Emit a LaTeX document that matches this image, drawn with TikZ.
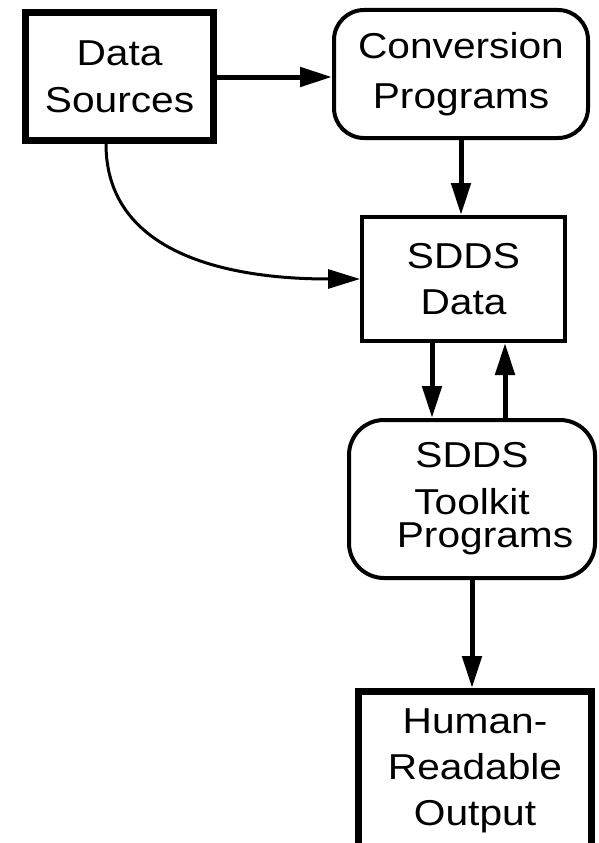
\documentclass[tikz,border=0pt]{standalone}
\usepackage{fontspec}
\setmainfont{Liberation Sans}[FakeStretch=1.13]
\usetikzlibrary{arrows.meta}

\begin{document}
\begin{tikzpicture}[x=1pt,y=-1pt,
	>={Triangle[length=32pt,width=19pt]},
	every node/.style={font=\fontsize{36}{46}\selectfont,align=center,inner sep=0pt},
	heavybox/.style={draw,line width=7pt},
	thinbox/.style={draw,line width=4pt},
	roundbox/.style={draw,line width=4pt,rounded corners=30pt},
	flow/.style={->,line width=5pt}]
	\useasboundingbox (0,0) rectangle (599,843);
	\clip (0,0) rectangle (599,843);
	% boxes
	\node[heavybox,minimum width=188pt,minimum height=128pt] (src) at (119.5,76.5) {Data\\[1pt]Sources};
	\node[roundbox,minimum width=254pt,minimum height=128pt] (conv) at (461,74) {Conversion\\[4pt]Programs};
	\node[thinbox,minimum width=203pt,minimum height=124pt] (data) at (463.5,279) {SDDS\\Data};
	\node[roundbox,rounded corners=35pt,minimum width=246pt,minimum height=158pt] (kit) at (472,499)
		{SDDS\\[1pt]Toolkit\\[-13pt]\hspace*{26pt}Programs};
	\node[heavybox,minimum width=233pt,minimum height=158pt] (out) at (475,770.5) {Human-\\Readable\\Output};
	% connectors
	\draw[flow] (src.east |- 0,77) -- (conv.west |- 0,77);
	\draw[flow] (conv.south) -- (conv.south |- data.north);
	\draw[flow,line width=3pt] ([xshift=-13.5pt]src.south) .. controls +(0,106) and +(-140,0) .. (data.west);
	\draw[flow] ([xshift=-31.5pt]data.south) -- ([xshift=-31.5pt]data.south |- kit.north);
	\draw[flow] ([xshift=41.5pt]data.south |- kit.north) -- ([xshift=41.5pt]data.south);
	\draw[flow] (kit.south) -- (kit.south |- out.north);
\end{tikzpicture}
\end{document}
